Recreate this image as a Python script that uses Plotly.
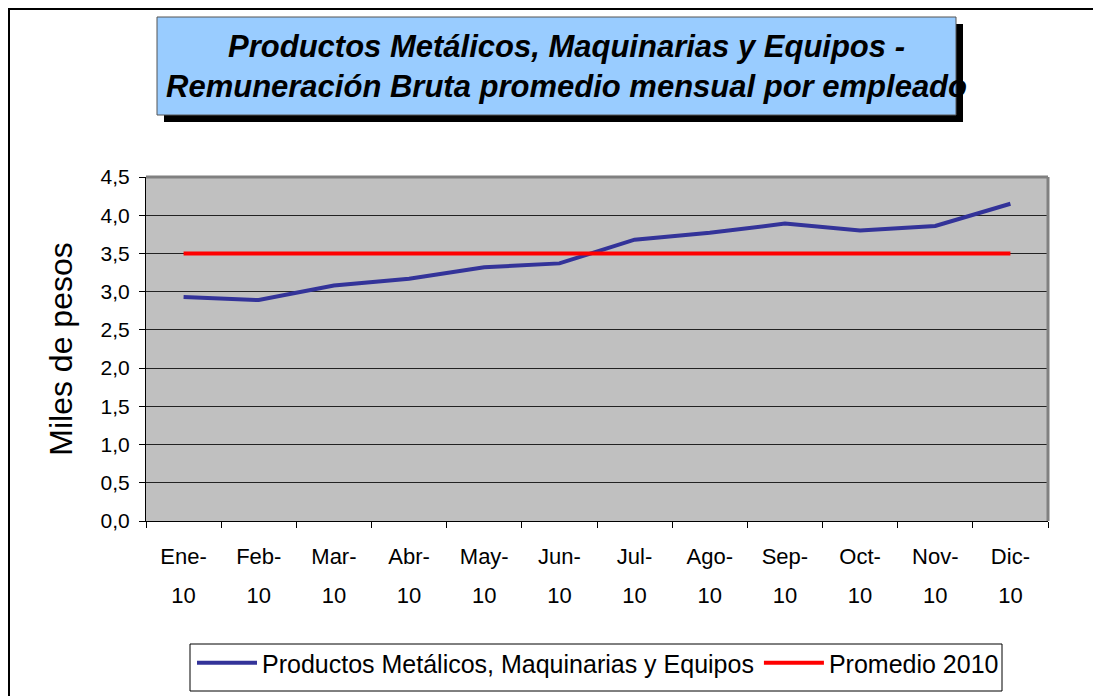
import plotly.graph_objects as go

meses = ["Ene-", "Feb-", "Mar-", "Abr-", "May-", "Jun-",
         "Jul-", "Ago-", "Sep-", "Oct-", "Nov-", "Dic-"]
anios = ["10"] * 12
remuneracion = [2.93, 2.89, 3.08, 3.17, 3.32, 3.37, 3.68, 3.77, 3.89, 3.80, 3.86, 4.15]
promedio_2010 = [3.5] * 12
y_ticks = [0.0, 0.5, 1.0, 1.5, 2.0, 2.5, 3.0, 3.5, 4.0, 4.5]

OFF = 8  # page body margin
W, H = 1101 - OFF, 696 - OFF
L, R, T, B = 146, 1048, 177, 521  # plot area in page pixels


def px(x):
    return (x - L) / (R - L)


def py(y):
    return (B - y) / (B - T)


fig = go.Figure()
fig.add_trace(go.Scatter(x=meses, y=remuneracion, mode="lines",
                         name="Productos Metálicos, Maquinarias y Equipos",
                         line=dict(color="#333399", width=4)))
fig.add_trace(go.Scatter(x=meses, y=promedio_2010, mode="lines",
                         name="Promedio 2010",
                         line=dict(color="#FF0000", width=4)))
# carrier for the second line of the month labels ("10")
fig.add_trace(go.Scatter(x=list(range(len(anios))), y=promedio_2010, xaxis="x2",
                         mode="markers", marker=dict(opacity=0), showlegend=False,
                         hoverinfo="skip"))

shapes = [
    # outer chart border
    dict(type="rect", xref="paper", yref="paper", x0=px(9), x1=px(1115), y0=py(710), y1=py(9),
         line=dict(color="black", width=2), fillcolor="rgba(0,0,0,0)", layer="below"),
    # title shadow + box
    dict(type="rect", xref="paper", yref="paper", x0=px(164), x1=px(963), y0=py(122), y1=py(24),
         line=dict(width=0), fillcolor="black", layer="above"),
    dict(type="rect", xref="paper", yref="paper", x0=px(157), x1=px(956), y0=py(115), y1=py(17),
         line=dict(color="#555555", width=1), fillcolor="#99CCFF", layer="above"),
    # legend frame
    dict(type="rect", xref="paper", yref="paper", x0=px(190), x1=px(1002), y0=py(691), y1=py(644),
         line=dict(color="black", width=1), fillcolor="white", layer="above"),
    # gray plot-area border on top and right
    dict(type="line", xref="paper", yref="paper", x0=0, x1=1, y0=1, y1=1,
         line=dict(color="#808080", width=3)),
    dict(type="line", xref="paper", yref="paper", x0=1, x1=1, y0=0, y1=1,
         line=dict(color="#808080", width=3)),
]

fig.update_layout(
    width=W, height=H,
    margin=dict(l=L - OFF, r=W - (R - OFF), t=T - OFF, b=H - (B - OFF), pad=0,
                autoexpand=False),
    paper_bgcolor="white",
    plot_bgcolor="#C0C0C0",
    separators=",.",
    font=dict(family="Liberation Sans, Arial, sans-serif", color="black", size=22),
    shapes=shapes,
    annotations=[dict(
        text="<b><i>Productos Metálicos, Maquinarias y Equipos -<br>"
             "Remuneración Bruta promedio mensual por empleado</i></b>",
        xref="paper", yref="paper", x=px(566), y=py(66), showarrow=False,
        xanchor="center", yanchor="middle", align="center",
        font=dict(size=31, color="black"))],
    showlegend=True,
    legend=dict(orientation="h", x=px(192), y=py(640), xanchor="left", yanchor="top",
                borderwidth=0, bgcolor="rgba(0,0,0,0)",
                font=dict(size=25), itemwidth=60, tracegroupgap=0),
)

fig.update_xaxes(type="category", range=[-0.5, 11.5], tickson="boundaries",
                 ticks="outside", ticklen=6, tickcolor="black", showline=True,
                 linecolor="black", linewidth=1, showgrid=False, automargin=False,
                 tickfont=dict(size=22), ticklabelstandoff=16)
fig.update_layout(xaxis2=dict(overlaying="x", anchor="y", side="bottom", range=[-0.5, 11.5],
                              tickvals=list(range(len(anios))), ticktext=anios,
                              ticks="outside", ticklen=6, tickcolor="rgba(0,0,0,0)",
                              showline=False, showgrid=False, zeroline=False,
                              automargin=False,
                              tickfont=dict(size=22), ticklabelstandoff=49))
fig.update_yaxes(range=[0, 4.5], tickvals=y_ticks, tickformat=".1f", ticks="outside",
                 ticklen=6, tickcolor="black", showline=True, linecolor="black", linewidth=1,
                 showgrid=True, gridcolor="#222222", gridwidth=1, zeroline=False,
                 automargin=False, tickfont=dict(size=21), ticklabelstandoff=5,
                 title=dict(text="Miles de pesos", font=dict(size=32), standoff=18))

fig.write_html("out.html")
